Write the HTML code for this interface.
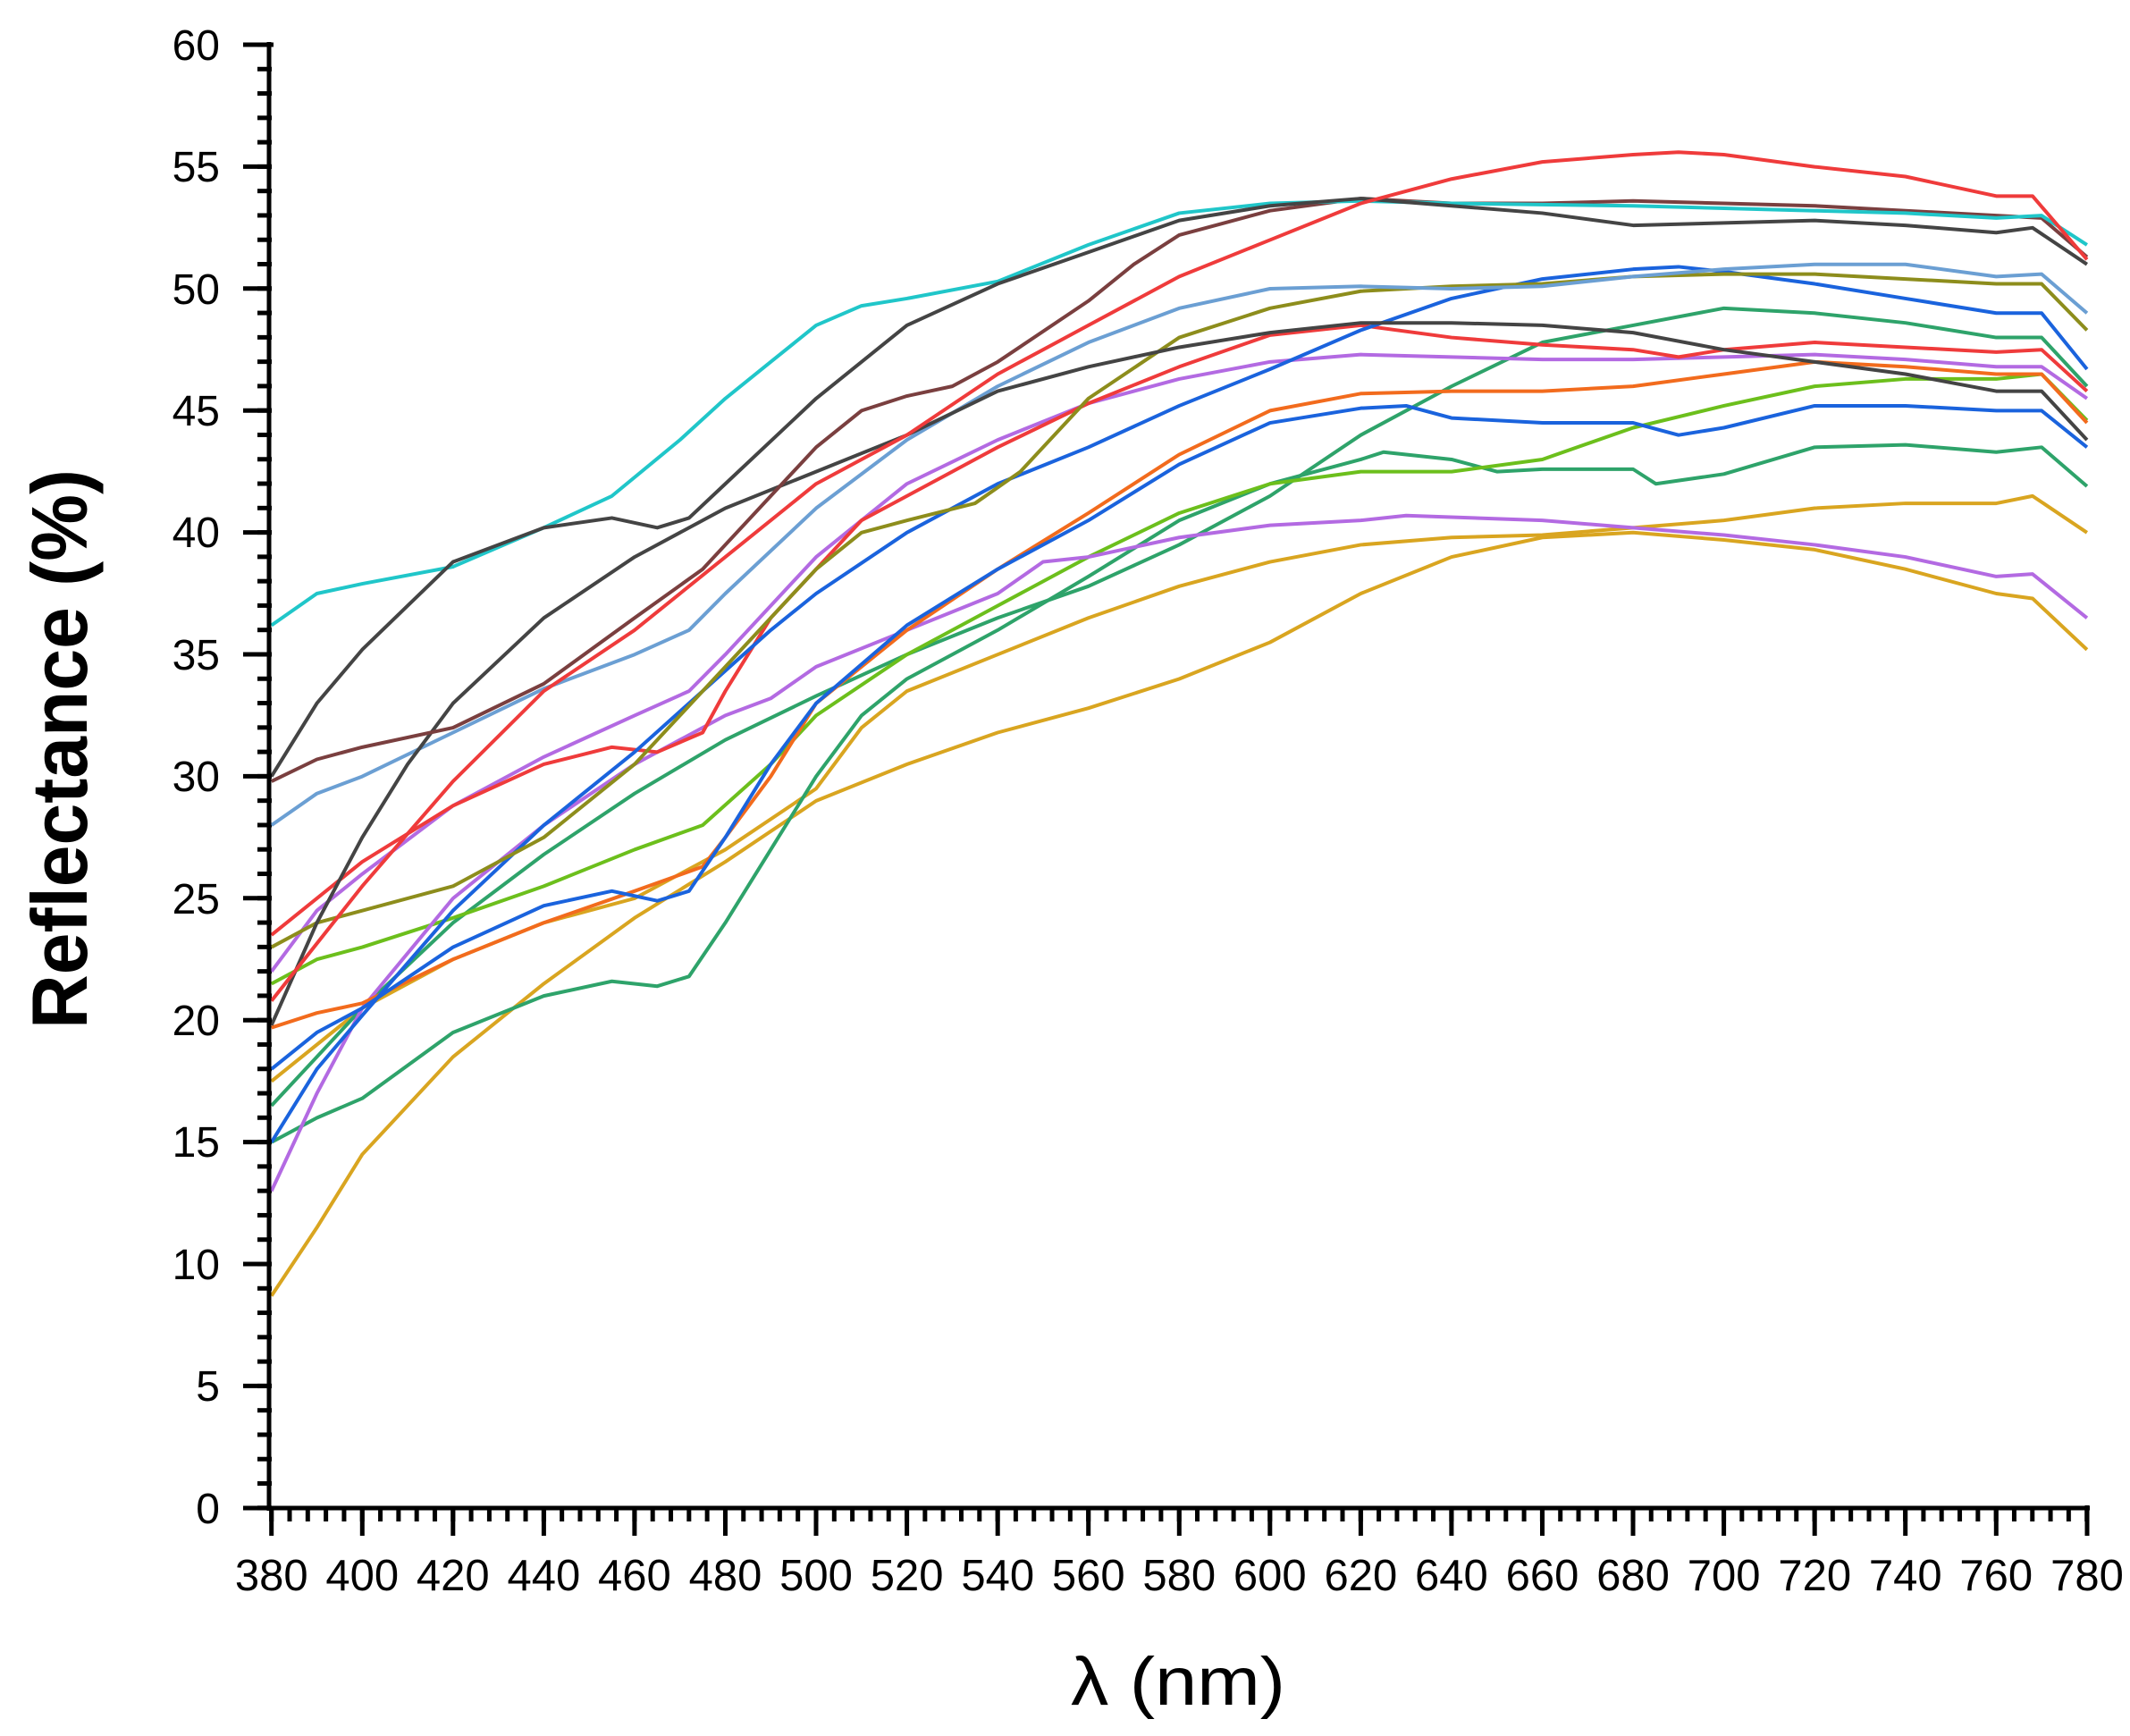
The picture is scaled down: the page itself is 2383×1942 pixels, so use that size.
<!DOCTYPE html>
<html><head><meta charset="utf-8"><style>
html,body{margin:0;padding:0;background:#fff;}
svg{display:block;}
text{font-family:"Liberation Sans",Arial,sans-serif;fill:#000;}
</style></head><body>
<svg width="2383" height="1942" viewBox="0 0 2383 1942" xmlns="http://www.w3.org/2000/svg">
<defs>
<pattern id="xm" patternUnits="userSpaceOnUse" x="301.2" y="0" width="20.31" height="20"><rect x="0" y="0" width="5" height="20" fill="#000"/></pattern>
<pattern id="ym" patternUnits="userSpaceOnUse" x="0" y="47.5" width="20" height="27.28"><rect x="0" y="0" width="20" height="5" fill="#000"/></pattern>
</defs>
<rect x="301" y="1687" width="2037" height="15" fill="url(#xm)"/>
<rect x="288" y="47" width="16" height="1643" fill="url(#ym)"/>
<g transform="translate(303.7,1687) scale(5.078,-27.28) translate(-380,0)" fill="none" stroke-width="4" stroke-linejoin="round">
<polyline vector-effect="non-scaling-stroke" stroke="#d9a520" points="380,8.7 390,11.5 400,14.5 420,18.5 440,21.5 460,24.2 480,26.5 500,29 520,30.5 540,31.8 560,32.8 580,34 600,35.5 620,37.5 640,39 660,39.8 680,40 700,39.7 720,39.3 740,38.5 760,37.5 768,37.3 780,35.2"/>
<polyline vector-effect="non-scaling-stroke" stroke="#d9a520" points="380,17.5 400,20.5 420,22.5 440,24 460,25 480,27 500,29.5 510,32 520,33.5 540,35 560,36.5 580,37.8 600,38.8 620,39.5 640,39.8 660,39.9 680,40.2 700,40.5 720,41 740,41.2 760,41.2 768,41.5 780,40"/>
<polyline vector-effect="non-scaling-stroke" stroke="#2ea36a" points="380,16.5 400,20.5 420,24 440,26.8 460,29.3 480,31.5 500,33.3 520,35 540,36.5 560,37.8 580,39.5 600,41.5 620,44 640,46 660,47.8 680,48.5 700,49.2 720,49 740,48.6 760,48 770,48 780,46"/>
<polyline vector-effect="non-scaling-stroke" stroke="#2ea36a" points="380,15 390,16 400,16.8 420,19.5 440,21 455,21.6 465,21.4 472,21.8 480,24 490,27 500,30 510,32.5 520,34 540,36 560,38.2 580,40.5 600,42 620,43 625,43.3 640,43 650,42.5 660,42.6 680,42.6 685,42 700,42.4 720,43.5 740,43.6 760,43.3 770,43.5 780,41.9"/>
<polyline vector-effect="non-scaling-stroke" stroke="#6cbf1c" points="380,21.5 390,22.5 400,23 420,24.2 440,25.5 460,27 475,28 490,30.5 500,32.5 520,35 540,37 560,39 580,40.8 600,42 620,42.5 640,42.5 660,43 680,44.3 700,45.2 720,46 740,46.3 760,46.3 770,46.5 780,44.6"/>
<polyline vector-effect="non-scaling-stroke" stroke="#b36ae2" points="380,13 390,17 400,20.5 420,25 440,28 460,30.5 480,32.5 490,33.2 500,34.5 520,36 540,37.5 550,38.8 560,39 580,39.8 600,40.3 620,40.5 630,40.7 660,40.5 680,40.2 700,39.9 720,39.5 740,39 760,38.2 768,38.3 780,36.5"/>
<polyline vector-effect="non-scaling-stroke" stroke="#b36ae2" points="380,22 390,24.5 400,26 420,28.8 440,30.8 460,32.5 472,33.5 480,35 500,39 520,42 540,43.8 560,45.3 580,46.3 600,47 620,47.3 640,47.2 660,47.1 680,47.1 700,47.2 720,47.3 740,47.1 760,46.8 770,46.8 780,45.5"/>
<polyline vector-effect="non-scaling-stroke" stroke="#f26b1d" points="380,19.7 390,20.3 400,20.7 420,22.5 440,24 460,25.3 475,26.3 480,27.5 490,30 500,33 520,36 540,38.5 560,40.8 580,43.2 600,45 620,45.7 640,45.8 660,45.8 680,46 700,46.5 720,47 740,46.8 760,46.5 770,46.5 780,44.5"/>
<polyline vector-effect="non-scaling-stroke" stroke="#ef3b3b" points="380,23.5 400,26.5 420,28.8 440,30.5 455,31.2 465,31 475,31.8 480,33.5 490,36.5 500,38.5 510,40.5 520,41.5 540,43.5 560,45.3 580,46.8 600,48.1 620,48.5 640,48 660,47.7 680,47.5 690,47.2 700,47.5 720,47.8 740,47.6 760,47.4 770,47.5 780,45.8"/>
<polyline vector-effect="non-scaling-stroke" stroke="#1a63dd" points="380,18 390,19.5 400,20.5 420,23 440,24.7 455,25.3 465,24.9 472,25.3 480,27.5 490,30.5 500,33 520,36.2 540,38.5 560,40.5 580,42.8 600,44.5 620,45.1 630,45.2 640,44.7 660,44.5 680,44.5 690,44 700,44.3 720,45.2 740,45.2 760,45 770,45 780,43.5"/>
<polyline vector-effect="non-scaling-stroke" stroke="#1a63dd" points="380,15 390,18 400,20.2 420,24.5 440,28 460,31 475,33.5 490,36 500,37.5 520,40 540,42 560,43.5 580,45.2 600,46.7 620,48.3 640,49.6 660,50.4 680,50.8 690,50.9 700,50.7 720,50.2 740,49.6 760,49 770,49 780,46.7"/>
<polyline vector-effect="non-scaling-stroke" stroke="#8d8d1c" points="380,23 390,24 400,24.5 420,25.5 440,27.5 460,30.5 480,34.5 500,38.5 510,40 520,40.5 535,41.2 545,42.5 560,45.5 580,48 600,49.2 620,49.9 640,50.1 660,50.2 680,50.5 700,50.6 720,50.6 740,50.4 760,50.2 770,50.2 780,48.3"/>
<polyline vector-effect="non-scaling-stroke" stroke="#6b9fd3" points="380,28 390,29.3 400,30 420,31.8 440,33.6 460,35 472,36 480,37.5 500,41 520,43.8 540,46 560,47.8 580,49.2 600,50 620,50.1 640,50 660,50.1 680,50.5 700,50.8 720,51 740,51 760,50.5 770,50.6 780,49"/>
<polyline vector-effect="non-scaling-stroke" stroke="#444" points="380,19.8 390,24 400,27.5 410,30.5 420,33 440,36.5 460,39 480,41 500,42.5 520,44 540,45.8 560,46.8 580,47.6 600,48.2 620,48.6 640,48.6 660,48.5 680,48.2 700,47.5 720,47 740,46.5 760,45.8 770,45.8 780,43.8"/>
<polyline vector-effect="non-scaling-stroke" stroke="#7a3f3f" points="380,29.8 390,30.7 400,31.2 420,32 440,33.8 460,36.5 475,38.5 490,41.5 500,43.5 510,45 520,45.6 530,46 540,47 560,49.5 570,51 580,52.2 600,53.2 620,53.7 640,53.5 660,53.5 680,53.6 700,53.5 720,53.4 740,53.2 760,53 770,52.9 780,51.3"/>
<polyline vector-effect="non-scaling-stroke" stroke="#20c6c9" points="380,36.2 390,37.5 400,37.9 420,38.6 440,40.2 455,41.5 470,43.8 480,45.5 490,47 500,48.5 510,49.3 520,49.6 540,50.3 560,51.8 580,53.1 600,53.5 620,53.6 640,53.5 680,53.4 700,53.3 720,53.2 740,53.1 760,52.9 770,53 780,51.8"/>
<polyline vector-effect="non-scaling-stroke" stroke="#444" points="380,30 390,33 400,35.2 420,38.8 440,40.2 455,40.6 465,40.2 472,40.6 480,42 500,45.5 520,48.5 540,50.2 560,51.5 580,52.8 600,53.4 620,53.7 640,53.4 660,53.1 680,52.6 700,52.7 720,52.8 740,52.6 760,52.3 768,52.5 780,51"/>
<polyline vector-effect="non-scaling-stroke" stroke="#ef3b3b" points="380,20.8 400,25.5 420,29.8 440,33.5 460,36 480,39 500,42 520,44 540,46.5 560,48.5 580,50.5 600,52 620,53.5 640,54.5 660,55.2 680,55.5 690,55.6 700,55.5 720,55 740,54.6 760,53.8 768,53.8 780,51.2"/>
</g>
<path d="M272,50 H306 M301,47 V1690 M301,1687 H2338 M2335,1684 V1718" stroke="#000" stroke-width="5" fill="none"/>
<g stroke="#000" stroke-width="5">
<line x1="272" y1="186.4" x2="304" y2="186.4"/><line x1="272" y1="322.8" x2="304" y2="322.8"/><line x1="272" y1="459.2" x2="304" y2="459.2"/><line x1="272" y1="595.6" x2="304" y2="595.6"/><line x1="272" y1="732" x2="304" y2="732"/><line x1="272" y1="868.4" x2="304" y2="868.4"/><line x1="272" y1="1004.8" x2="304" y2="1004.8"/><line x1="272" y1="1141.2" x2="304" y2="1141.2"/><line x1="272" y1="1277.6" x2="304" y2="1277.6"/><line x1="272" y1="1414" x2="304" y2="1414"/><line x1="272" y1="1550.4" x2="304" y2="1550.4"/><line x1="272" y1="1687" x2="304" y2="1687"/>
<line x1="303.7" y1="1687" x2="303.7" y2="1718"/><line x1="405.3" y1="1687" x2="405.3" y2="1718"/><line x1="506.8" y1="1687" x2="506.8" y2="1718"/><line x1="608.4" y1="1687" x2="608.4" y2="1718"/><line x1="709.9" y1="1687" x2="709.9" y2="1718"/><line x1="811.5" y1="1687" x2="811.5" y2="1718"/><line x1="913" y1="1687" x2="913" y2="1718"/><line x1="1014.6" y1="1687" x2="1014.6" y2="1718"/><line x1="1116.2" y1="1687" x2="1116.2" y2="1718"/><line x1="1217.7" y1="1687" x2="1217.7" y2="1718"/><line x1="1319.3" y1="1687" x2="1319.3" y2="1718"/><line x1="1420.8" y1="1687" x2="1420.8" y2="1718"/><line x1="1522.4" y1="1687" x2="1522.4" y2="1718"/><line x1="1623.9" y1="1687" x2="1623.9" y2="1718"/><line x1="1725.5" y1="1687" x2="1725.5" y2="1718"/><line x1="1827" y1="1687" x2="1827" y2="1718"/><line x1="1928.6" y1="1687" x2="1928.6" y2="1718"/><line x1="2030.2" y1="1687" x2="2030.2" y2="1718"/><line x1="2131.7" y1="1687" x2="2131.7" y2="1718"/><line x1="2233.3" y1="1687" x2="2233.3" y2="1718"/>
</g>
<g font-size="48" text-anchor="end">
<text x="246" y="67">60</text><text x="246" y="203">55</text><text x="246" y="340">50</text><text x="246" y="476">45</text><text x="246" y="612">40</text><text x="246" y="749">35</text><text x="246" y="885">30</text><text x="246" y="1022">25</text><text x="246" y="1158">20</text><text x="246" y="1294">15</text><text x="246" y="1431">10</text><text x="246" y="1567">5</text><text x="246" y="1704">0</text>
</g>
<g font-size="49" text-anchor="middle">
<text x="303.7" y="1779">380</text><text x="405.3" y="1779">400</text><text x="506.8" y="1779">420</text><text x="608.4" y="1779">440</text><text x="709.9" y="1779">460</text><text x="811.5" y="1779">480</text><text x="913" y="1779">500</text><text x="1014.6" y="1779">520</text><text x="1116.2" y="1779">540</text><text x="1217.7" y="1779">560</text><text x="1319.3" y="1779">580</text><text x="1420.8" y="1779">600</text><text x="1522.4" y="1779">620</text><text x="1623.9" y="1779">640</text><text x="1725.5" y="1779">660</text><text x="1827" y="1779">680</text><text x="1928.6" y="1779">700</text><text x="2030.2" y="1779">720</text><text x="2131.7" y="1779">740</text><text x="2233.3" y="1779">760</text><text x="2335" y="1779">780</text>
</g>
<text transform="translate(97,1151) rotate(-90)" font-size="88" font-weight="bold" textLength="626" lengthAdjust="spacingAndGlyphs">Reflectance (%)</text>
<text x="1198" y="1907" font-size="76" textLength="240" lengthAdjust="spacingAndGlyphs">λ (nm)</text>
</svg>
</body></html>
